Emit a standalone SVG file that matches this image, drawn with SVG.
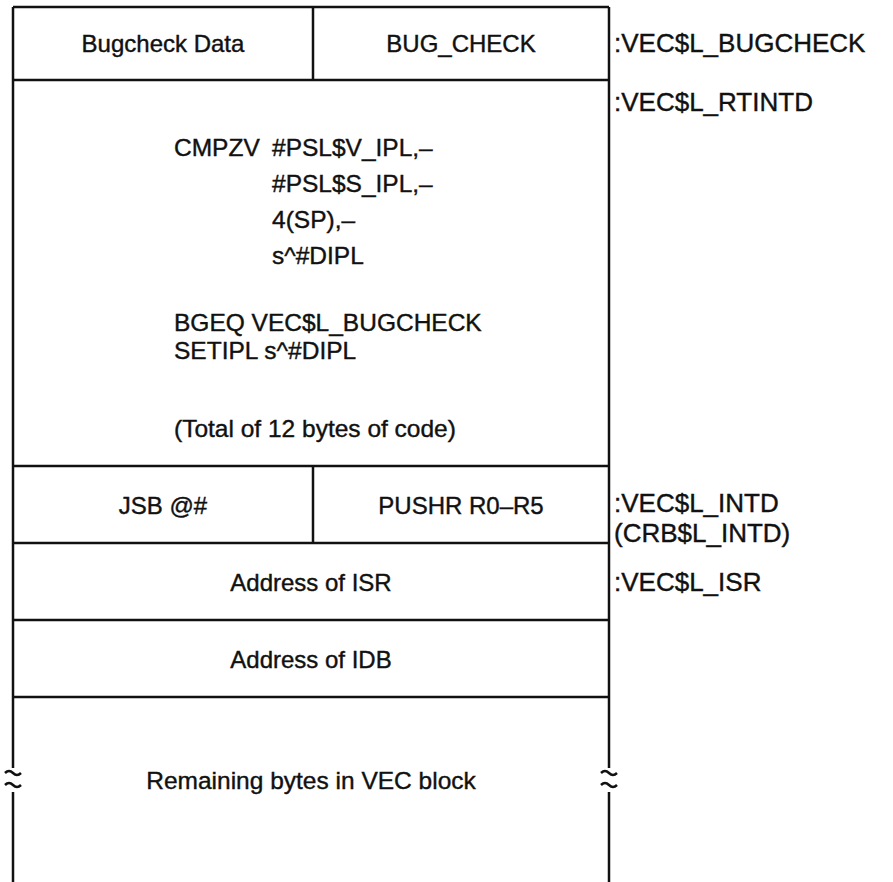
<svg xmlns="http://www.w3.org/2000/svg" width="893" height="882" viewBox="0 0 893 882">
<style>
  .ln { stroke: #111; stroke-width: 2.5; fill: none; }
  .t { font-family: "Liberation Sans", Arial, sans-serif; font-size: 24px; fill: #111; stroke: #111; stroke-width: 0.4; }
  .code { font-size: 24.5px; }
  .lbl { font-size: 26px; }
  .c { text-anchor: middle; }
</style>
<rect width="893" height="882" fill="#fff"/>
<g id="connectors">
</g>
<g id="frame">
  <line class="ln" x1="13" y1="7" x2="609" y2="7"/>
  <line class="ln" x1="13" y1="7" x2="13" y2="768"/>
  <line class="ln" x1="13" y1="792" x2="13" y2="882"/>
  <line class="ln" x1="609" y1="7" x2="609" y2="768"/>
  <line class="ln" x1="609" y1="792" x2="609" y2="882"/>
  <path class="ln" d="M5,773 q4,-4 8,0 t8,0"/>
  <path class="ln" d="M5,785 q4,-4 8,0 t8,0"/>
  <path class="ln" d="M601,773 q4,-4 8,0 t8,0"/>
  <path class="ln" d="M601,785 q4,-4 8,0 t8,0"/>
</g>
<g id="row-bugcheck">
  <line class="ln" x1="13" y1="80" x2="609" y2="80"/>
  <line class="ln" x1="313" y1="7" x2="313" y2="80"/>
  <text class="t c" x="163" y="52">Bugcheck Data</text>
  <text class="t c" x="461" y="52">BUG_CHECK</text>
</g>
<g id="row-code">
  <line class="ln" x1="13" y1="466" x2="609" y2="466"/>
  <text class="t code" x="174" y="156">CMPZV</text>
  <text class="t code" x="272" y="156">#PSL$V_IPL,–</text>
  <text class="t code" x="272" y="192">#PSL$S_IPL,–</text>
  <text class="t code" x="272" y="228">4(SP),–</text>
  <text class="t code" x="272" y="264">s^#DIPL</text>
  <text class="t code" x="174" y="331">BGEQ VEC$L_BUGCHECK</text>
  <text class="t code" x="174" y="359">SETIPL s^#DIPL</text>
  <text class="t code" x="174" y="437">(Total of 12 bytes of code)</text>
</g>
<g id="row-jsb">
  <line class="ln" x1="13" y1="543" x2="609" y2="543"/>
  <line class="ln" x1="313" y1="466" x2="313" y2="543"/>
  <text class="t c" x="163" y="514">JSB @#</text>
  <text class="t c" x="461" y="514">PUSHR R0–R5</text>
</g>
<g id="row-isr">
  <line class="ln" x1="13" y1="620" x2="609" y2="620"/>
  <text class="t c" x="311" y="591">Address of ISR</text>
</g>
<g id="row-idb">
  <line class="ln" x1="13" y1="697" x2="609" y2="697"/>
  <text class="t c" x="311" y="668">Address of IDB</text>
</g>
<g id="row-remaining">
  <text class="t code c" x="311" y="789">Remaining bytes in VEC block</text>
</g>
<g id="labels">
  <text class="t lbl" x="614" y="52">:VEC$L_BUGCHECK</text>
  <text class="t lbl" x="614" y="111">:VEC$L_RTINTD</text>
  <text class="t lbl" x="614" y="512">:VEC$L_INTD</text>
  <text class="t lbl" x="614" y="542">(CRB$L_INTD)</text>
  <text class="t lbl" x="614" y="591">:VEC$L_ISR</text>
</g>
</svg>
